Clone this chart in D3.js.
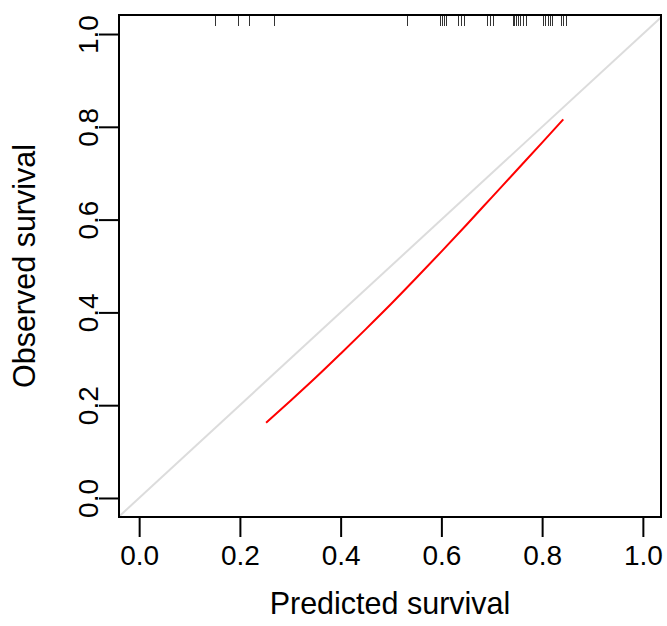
<!DOCTYPE html>
<html>
<head>
<meta charset="utf-8">
<script src="https://cdn.jsdelivr.net/npm/d3@7"></script>
<style>
  body { margin: 0; background: #fff; }
  svg { display: block; font-family: "Liberation Sans", Arial, sans-serif; }
</style>
</head>
<body>
<div class="canvas"></div>
<script>
// tick values on both axes
var tickVals = [0, 0.2, 0.4, 0.6, 0.8, 1.0];
var tickLabels = ["0.0", "0.2", "0.4", "0.6", "0.8", "1.0"];

// calibration curve (predicted vs observed)
var curvePred = [0.252, 0.30, 0.35, 0.40, 0.45, 0.50, 0.55, 0.60, 0.65, 0.70, 0.75, 0.80, 0.842];
var curveObs  = [0.162, 0.209, 0.259, 0.311, 0.364, 0.418, 0.474, 0.531, 0.589, 0.648, 0.707, 0.766, 0.816];

// rug of predicted values along the top
var rugPred = [0.151, 0.196, 0.218, 0.268, 0.532, 0.597, 0.601, 0.605, 0.609,
               0.633, 0.639, 0.645, 0.690, 0.696, 0.702, 0.742, 0.744, 0.748,
               0.752, 0.756, 0.762, 0.768, 0.802, 0.806, 0.812, 0.815, 0.819,
               0.837, 0.841, 0.847];

var width = 667, height = 626;
// plot region edges (note: "top" is reserved on window, so use pl/pr/pt/pb)
var pl = 119, pr = 661, pt = 15, pb = 517;

var svg = d3.select(".canvas").append("svg")
    .attr("width", width)
    .attr("height", height);

var x = d3.scaleLinear().domain([-0.04, 1.036]).range([pl, pr]);
var y = d3.scaleLinear().domain([-0.041, 1.041]).range([pb, pt]);

svg.append("clipPath").attr("id", "plotclip")
    .append("rect")
    .attr("x", pl).attr("y", pt)
    .attr("width", pr - pl).attr("height", pb - pt);

// reference diagonal
svg.append("line")
    .attr("clip-path", "url(#plotclip)")
    .attr("x1", x(-0.1)).attr("y1", y(-0.1))
    .attr("x2", x(1.1)).attr("y2", y(1.1))
    .attr("stroke", "#dcdcdc")
    .attr("stroke-width", 2);

// calibration curve
var line = d3.line()
    .x(function(d, i) { return x(curvePred[i]); })
    .y(function(d, i) { return y(curveObs[i]); })
    .curve(d3.curveMonotoneX);

svg.append("path")
    .datum(curvePred)
    .attr("d", line)
    .attr("fill", "none")
    .attr("stroke", "#ff0000")
    .attr("stroke-width", 2);

// rug
svg.append("g")
    .selectAll("line")
    .data(rugPred)
    .enter().append("line")
    .attr("x1", function(d) { return Math.round(x(d)) + 0.5; })
    .attr("x2", function(d) { return Math.round(x(d)) + 0.5; })
    .attr("y1", pt)
    .attr("y2", pt + 11)
    .attr("stroke", "#333")
    .attr("stroke-width", 1);

// x axis
var xAxis = svg.append("g")
    .attr("transform", "translate(0," + pb + ")")
    .call(d3.axisBottom(x).tickValues(tickVals).tickSize(20).tickPadding(8)
        .tickFormat(function(d, i) { return tickLabels[i]; }));
xAxis.select(".domain").remove();
xAxis.selectAll("line").attr("stroke", "#000").attr("stroke-width", 2);
xAxis.selectAll("text").attr("font-size", 28).attr("fill", "#000")
    .attr("font-family", "Liberation Sans, Arial, sans-serif");

// y axis
var yAxis = svg.append("g")
    .attr("transform", "translate(" + pl + ",0)")
    .call(d3.axisLeft(y).tickValues(tickVals).tickSize(20)
        .tickFormat(function(d, i) { return tickLabels[i]; }));
yAxis.select(".domain").remove();
yAxis.selectAll("line").attr("stroke", "#000").attr("stroke-width", 2);
yAxis.selectAll("text")
    .attr("font-size", 28).attr("fill", "#000")
    .attr("font-family", "Liberation Sans, Arial, sans-serif")
    .attr("x", null).attr("dy", null)
    .attr("text-anchor", "middle")
    .attr("transform", "translate(-21,0) rotate(-90)");

// box
svg.append("rect")
    .attr("x", pl).attr("y", pt)
    .attr("width", pr - pl).attr("height", pb - pt)
    .attr("fill", "none")
    .attr("stroke", "#000")
    .attr("stroke-width", 2);

// axis titles
svg.append("text")
    .attr("x", (pl + pr) / 2)
    .attr("y", 614)
    .attr("text-anchor", "middle")
    .attr("font-size", 30.5)
    .text("Predicted survival");

svg.append("text")
    .attr("transform", "translate(35," + (pt + pb) / 2 + ") rotate(-90)")
    .attr("text-anchor", "middle")
    .attr("font-size", 30.5)
    .text("Observed survival");
</script>
</body>
</html>
